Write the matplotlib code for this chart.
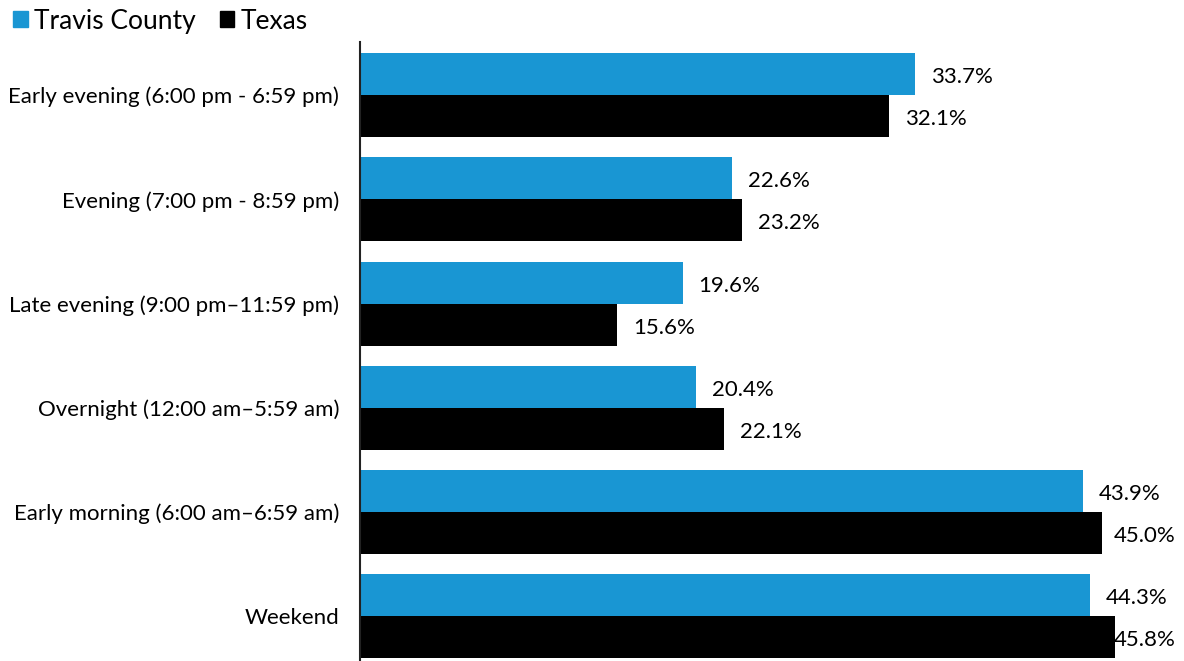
import numpy as np
import matplotlib.pyplot as plt
from matplotlib.patches import Patch

plt.rcParams["font.family"] = ["Lato", "DejaVu Sans"]

categories = [
    "Early evening (6:00 pm - 6:59 pm)",
    "Evening (7:00 pm - 8:59 pm)",
    "Late evening (9:00 pm\u201311:59 pm)",
    "Overnight (12:00 am\u20135:59 am)",
    "Early morning (6:00 am\u20136:59 am)",
    "Weekend",
]
travis = [33.7, 22.6, 19.6, 20.4, 43.9, 44.3]
texas = [32.1, 23.2, 15.6, 22.1, 45.0, 45.8]

blue = "#1996d3"
black = "#000000"

fig = plt.figure(figsize=(11.84, 6.61), dpi=100)
ax = fig.add_axes([360 / 1184, 0, 824 / 1184, 619 / 661])

y = np.arange(len(categories))
h = 0.403
ax.barh(y - h / 2, travis, height=h, color=blue)
ax.barh(y + h / 2, texas, height=h, color=black)

ax.set_xlim(0, 50)
ax.set_ylim(5.43, -0.51)

# value labels; pull back any label that would run past the right edge
labels = []
for yi, v in zip(y, travis):
    labels.append(ax.text(v + 0.95, yi - h / 2 + 0.03, f"{v:.1f}%",
                          va="center", ha="left", fontsize=16))
for yi, v in zip(y, texas):
    labels.append(ax.text(v + 0.95, yi + h / 2 + 0.03, f"{v:.1f}%",
                          va="center", ha="left", fontsize=16))

fig.canvas.draw()
renderer = fig.canvas.get_renderer()
right_px = 1176
for t in labels:
    bb = t.get_window_extent(renderer)
    if bb.x1 > right_px:
        shift = bb.x1 - right_px
        x0, y0 = t.get_position()
        xd = ax.transData.inverted().transform((ax.transData.transform((x0, y0))[0] - shift, 0))[0]
        t.set_x(xd)

ax.set_yticks(y)
ax.set_yticklabels(categories, fontsize=16)
ax.tick_params(axis="y", length=0, pad=15)
ax.set_xticks([])
for s in ["top", "right", "bottom"]:
    ax.spines[s].set_visible(False)
ax.spines["left"].set_linewidth(1.5)
ax.spines["left"].set_color("#222222")

handles = [Patch(color=blue, label="Travis County"), Patch(color=black, label="Texas")]
fig.legend(handles=handles, loc="upper left", bbox_to_anchor=(0.0, 1.007), ncol=2,
           frameon=False, fontsize=19, handlelength=0.55, handleheight=0.55,
           handletextpad=0.25, columnspacing=0.9, borderaxespad=0.3,
           borderpad=0.2)

fig.savefig("out.png", dpi=100)
